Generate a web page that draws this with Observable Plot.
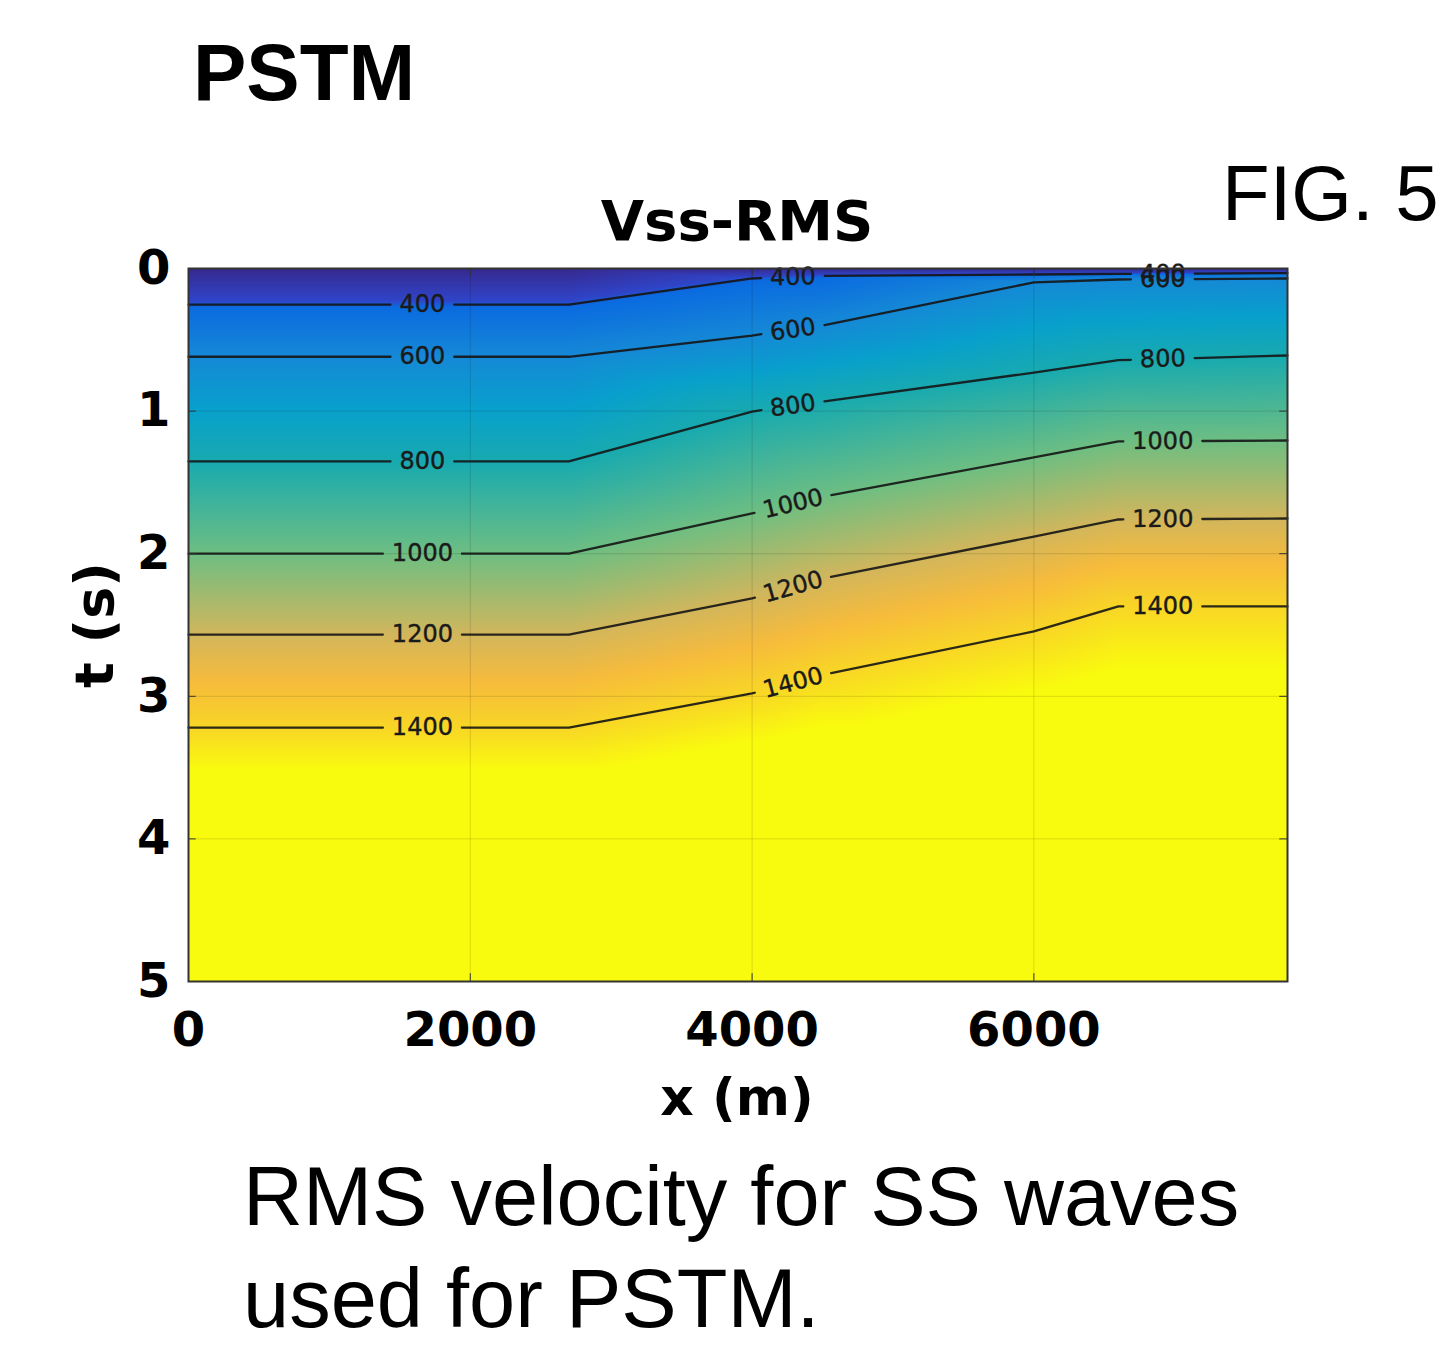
<!DOCTYPE html>
<html>
<head>
<meta charset="utf-8">
<script src="https://cdn.jsdelivr.net/npm/d3@7"></script>
<script src="https://cdn.jsdelivr.net/npm/@observablehq/plot@0.6"></script>
<style>
  body { margin: 0; background: #fff; }
  #page { position: relative; width: 1445px; height: 1347px; overflow: hidden; background: #fff; }
  .abs { position: absolute; white-space: nowrap; line-height: 1; color: #000; }
  .sans { font-family: "Liberation Sans", Arial, sans-serif; }
  .dj { font-family: "DejaVu Sans", sans-serif; font-weight: bold; }
  .cap { line-height: 0.8; }
  #chart { position: absolute; left: 0; top: 250px; }
</style>
</head>
<body>
<div id="page">
  <div class="abs sans" style="left:193px; top:33px; font-size:80px; font-weight:bold;">PSTM</div>
  <div class="abs sans" style="left:1222px; top:154px; font-size:78px;">FIG. 5</div>
  <div class="abs dj" style="left:737px; top:193px; font-size:56px; transform:translateX(-50%);">Vss-RMS</div>
  <div id="chart"></div>
  <div class="abs dj" style="left:737px; top:1071px; font-size:52px; transform:translateX(-50%);">x (m)</div>
  <div class="abs dj" style="left:95px; top:625px; font-size:54px; transform:translate(-50%,-50%) rotate(-90deg);">t (s)</div>
  <div class="abs sans cap" style="left:243px; top:1164px; font-size:83px;">RMS velocity for SS waves</div>
  <div class="abs sans cap" style="left:243px; top:1266px; font-size:83px;">used for PSTM.</div>
</div>
<script>
// ---- data ----
const xCols  = [0, 2700, 4000, 4500, 6000, 6600, 7800];      // x (m) columns
const levels = [400, 600, 800, 1000, 1200, 1400];            // contour levels (m/s)
const t400   = [0.253, 0.253, 0.070, 0.052, 0.042, 0.038, 0.032];
const t600   = [0.619, 0.619, 0.470, 0.400, 0.097, 0.077, 0.070];
const t800   = [1.353, 1.353, 1.003, 0.933, 0.730, 0.643, 0.610];
const t1000  = [2.000, 2.000, 1.718, 1.600, 1.325, 1.213, 1.206];
const t1200  = [2.567, 2.567, 2.314, 2.174, 1.880, 1.760, 1.753];
const t1400  = [3.220, 3.220, 2.980, 2.850, 2.545, 2.370, 2.370];
const vTop = 250;       // velocity at t = 0
const vBottom = 2000;   // velocity at t = 5
const labelX = [1660, 4290, 6915];                            // contour label positions (m)
const xTicks = [0, 2000, 4000, 6000];
const yTicks = [0, 1, 2, 3, 4, 5];
// colour map (parula-like)
const colorV = [250, 385, 410, 600, 700, 800, 1000, 1200, 1300, 1400, 1500];
const colorC = ["#37298f", "#2f45c9", "#0b6be0", "#1589d6", "#08a0cc", "#18aab0",
                "#6ebe82", "#d2b65c", "#f6bb3c", "#f8d626", "#f9fb0e"];

// ---- layout ----
const W = 1445, H = 900;
const mL = 188, mR = 158, mT = 18, mB = 169;
const kx = (W - mL - mR) / 7800, ky = (H - mT - mB) / 5;
const labelSize = 24;

const levelT = [t400, t600, t800, t1000, t1200, t1400];

// scattered samples for the raster
const samples = [];
xCols.forEach((x, j) => {
  samples.push({x, t: 0, v: vTop});
  levels.forEach((L, i) => samples.push({x, t: levelT[i][j], v: L}));
  samples.push({x, t: 5, v: vBottom});
});

function segIndex(x) {
  for (let j = 0; j < xCols.length - 1; j++) if (x <= xCols[j + 1]) return j;
  return xCols.length - 2;
}
function tAt(ts, x) {
  const j = segIndex(x);
  const f = (x - xCols[j]) / (xCols[j + 1] - xCols[j]);
  return ts[j] + f * (ts[j + 1] - ts[j]);
}

// contour lines split around labels, and the labels
const lines = [], labels = [];
levels.forEach((L, i) => {
  const ts = levelT[i];
  const gaps = labelX.map(xl => {
    const j = segIndex(xl);
    const ang = Math.atan2((ts[j + 1] - ts[j]) * ky, (xCols[j + 1] - xCols[j]) * kx);
    const tw = String(L).length * 0.636 * labelSize;
    const half = (tw / 2 + 9) * Math.cos(ang) / kx;
    labels.push({x: xl, t: tAt(ts, xl), v: L, angle: ang * 180 / Math.PI});
    return [xl - half, xl + half];
  });
  const bps = Array.from(new Set([...xCols, ...gaps.flat()])).sort((a, b) => a - b);
  let seg = null, sid = 0;
  for (let k = 0; k < bps.length - 1; k++) {
    const a = bps[k], b = bps[k + 1], m = (a + b) / 2;
    const inGap = gaps.some(([g0, g1]) => m > g0 && m < g1);
    if (inGap) { seg = null; continue; }
    if (!seg) { seg = L + "-" + (sid++); lines.push({x: a, t: tAt(ts, a), seg}); }
    lines.push({x: b, t: tAt(ts, b), seg});
  }
});

const plot = Plot.plot({
  width: W, height: H,
  marginLeft: mL, marginRight: mR, marginTop: mT, marginBottom: mB,
  x: {domain: [0, 7800]},
  y: {domain: [0, 5], reverse: true},
  color: {type: "linear", domain: colorV, range: colorC, clamp: true},
  style: {fontFamily: "DejaVu Sans", background: "transparent", overflow: "visible"},
  marks: [
    Plot.raster(samples, {x: "x", y: "t", fill: "v", interpolate: "barycentric",
      x1: 0, x2: 7800, y1: 0, y2: 5, pixelSize: 1}),
    Plot.gridX(xTicks, {stroke: "#000", strokeOpacity: 0.13}),
    Plot.gridY(yTicks, {stroke: "#000", strokeOpacity: 0.13}),
    Plot.line(lines, {x: "x", y: "t", z: "seg", stroke: "#151515", strokeWidth: 2.3, strokeOpacity: 0.9}),
    Plot.text(labels, {x: "x", y: "t", text: d => String(d.v), rotate: "angle",
      fontSize: labelSize, fill: "#1a1a1a", fontFamily: "DejaVu Sans",
      stroke: "#1a1a1a", strokeWidth: 0.4}),
    Plot.ruleY([1, 2, 3, 4], {x1: 0, x2: 55, stroke: "#333"}),
    Plot.ruleY([1, 2, 3, 4], {x1: 7745, x2: 7800, stroke: "#333"}),
    Plot.ruleX([2000, 4000, 6000], {y1: 4.945, y2: 5, stroke: "#333"}),
    Plot.ruleX([2000, 4000, 6000], {y1: 0, y2: 0.055, stroke: "#333"}),
    Plot.frame({stroke: "#333", strokeWidth: 2}),
    Plot.axisX(xTicks, {tickSize: 0, tickPadding: 30, fontSize: 48, fontWeight: "bold",
      label: null, tickFormat: d => String(d)}),
    Plot.axisY(yTicks, {tickSize: 0, tickPadding: 18, fontSize: 48, fontWeight: "bold",
      label: null, tickFormat: d => String(d)})
  ]
});
document.getElementById("chart").appendChild(plot);
</script>
</body>
</html>
